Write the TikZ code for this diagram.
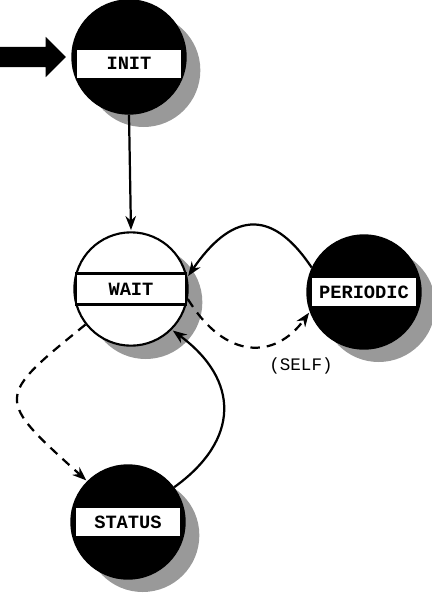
\documentclass[tikz,border=0pt]{standalone}
\usepackage{fontspec}
\setmonofont{Liberation Mono}
\usepackage{tikz}
\usetikzlibrary{arrows.meta, positioning, shapes.arrows}

\begin{document}
\begin{tikzpicture}[
    x=0.03cm, y=-0.03cm, >=Stealth,
    font=\fontsize{16}{18}\selectfont\ttfamily\bfseries,
    state/.style={circle, draw=black, line width=1.8pt, minimum size=3.4cm,
                  inner sep=0pt,
                  preaction={fill=black!40,
                             transform canvas={shift={(0.44cm,-0.40cm)}}}},
    busy/.style={state, fill=black},
    idle/.style={state, fill=white},
    lbl/.style={rectangle, fill=white, inner sep=0pt, minimum width=3.1cm,
                minimum height=0.84cm},
    trans/.style={line width=1.9pt, shorten >=1pt,
                  -{Stealth[length=12pt, width=9pt]}},
    event/.style={trans, dash pattern=on 8pt off 6pt},
  ]
    \useasboundingbox (0,0) rectangle (432,593);
    % ---- states ----
    \node[busy] (init)     at (129,57)  {};
    \node[idle] (wait)     at (131,289) {};
    \node[busy] (periodic) at (364,292) {};
    \node[busy] (status)   at (128,522) {};
    % ---- state names ----
    \node[lbl] (init-lbl)     at ([yshift=-0.2cm]init.center) {INIT};
    \node[lbl, draw, line width=1.8pt, minimum width=3.3cm, minimum height=0.93cm]
              (wait-lbl)      at (wait.center)     {WAIT};
    \node[lbl] (periodic-lbl) at (periodic.center) {PERIODIC};
    \node[lbl] (status-lbl)   at (status.center)   {STATUS};
    % ---- entry ----
    \node[single arrow, fill=black, inner sep=0pt, text height=0.33cm,
          text depth=0.27cm, minimum height=2.0cm,
          single arrow head extend=0.3cm,
          left=0.15cm of init.west] (entry) {};
    % ---- transitions ----
    \draw[trans] (init.south) -- (wait.north);
    \draw[trans] (periodic.155) .. controls (270,205) and (230,215) .. (wait.12);
    \draw[event] (wait.-10) .. controls (225,360) and (275,360) .. (periodic.200);
    \draw[event] (wait.218) .. controls (-5,398) and (-5,398) .. (status.135);
    \draw[trans] (status.37) .. controls (240,440) and (240,380) .. (wait.-45);
    % ---- note ----
    \node[font=\fontsize{15}{17}\selectfont\ttfamily] (self) at (301,366) {(SELF)};
\end{tikzpicture}
\end{document}
